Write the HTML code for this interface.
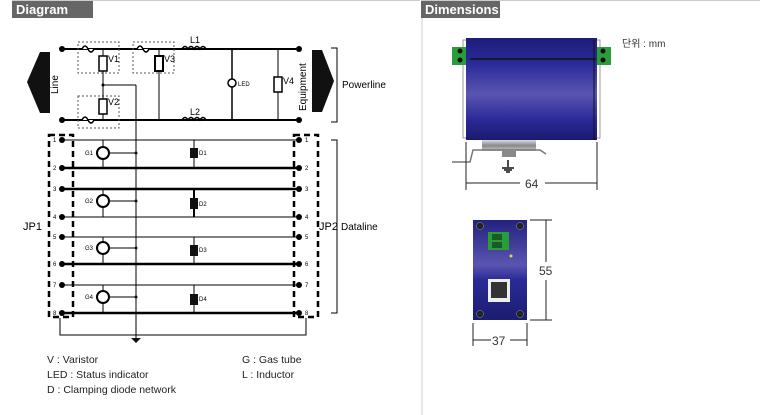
<!DOCTYPE html>
<html><head><meta charset="utf-8"><style>
html,body{margin:0;padding:0;background:#fff;width:760px;height:415px;overflow:hidden}
svg{display:block}
text{font-family:"Liberation Sans","Noto Sans CJK KR",sans-serif}
</style></head><body>
<svg width="760" height="415" viewBox="0 0 760 415" xmlns="http://www.w3.org/2000/svg">
<defs>
<linearGradient id="bl" x1="0" y1="0" x2="0" y2="1">
<stop offset="0" stop-color="#1c1c7a"/><stop offset="0.25" stop-color="#2a2a9a"/><stop offset="0.55" stop-color="#5a55b0"/><stop offset="0.8" stop-color="#2a2a98"/><stop offset="1" stop-color="#1a1a70"/></linearGradient>
<linearGradient id="bl2" x1="0" y1="0" x2="0" y2="1">
<stop offset="0" stop-color="#22227e"/><stop offset="0.45" stop-color="#5a55b0"/><stop offset="0.6" stop-color="#2a2a96"/><stop offset="1" stop-color="#1c1c70"/></linearGradient>
<linearGradient id="pl" x1="0" y1="0" x2="0" y2="1"><stop offset="0" stop-color="#ddd"/><stop offset="0.5" stop-color="#888"/><stop offset="1" stop-color="#ccc"/></linearGradient>
</defs>
<!-- headers -->
<line x1="12" y1="0.5" x2="420" y2="0.5" stroke="#ccc"/>
<line x1="421" y1="0.5" x2="760" y2="0.5" stroke="#ccc"/>
<rect x="12" y="1" width="81" height="17" fill="#666"/>
<text x="16" y="14" font-size="13" font-weight="bold" fill="#fff">Diagram</text>
<rect x="421" y="1" width="79" height="17" fill="#666"/>
<text x="425" y="14" font-size="13" font-weight="bold" fill="#fff">Dimensions</text>
<line x1="422" y1="18" x2="422" y2="415" stroke="#ccc"/>

<g stroke="#000" fill="none">
<!-- power lines -->
<line x1="62" y1="49" x2="299" y2="49" stroke-width="2"/>
<line x1="62" y1="120" x2="299" y2="120" stroke-width="2"/>
<rect x="78" y="42" width="41" height="31" stroke="#555" stroke-dasharray="2,2"/>
<rect x="78" y="96" width="41" height="32" stroke="#555" stroke-dasharray="2,2"/>
<rect x="133" y="42" width="41" height="31" stroke="#555" stroke-dasharray="2,2"/>
<line x1="103" y1="49" x2="103" y2="120"/>
<line x1="159" y1="49" x2="159" y2="120"/>
<line x1="103" y1="85" x2="136" y2="85"/>
<line x1="136" y1="85" x2="136" y2="338"/>
<line x1="232" y1="49" x2="232" y2="120" stroke-width="1.5"/>
<line x1="278" y1="49" x2="278" y2="120"/>
</g>
<!-- fuses -->
<g stroke="#000" fill="#fff" stroke-width="1.5">
<path d="M82 49 q3-6 6 0 t6 0" /><path d="M137 49 q3-6 6 0 t6 0"/><path d="M82 120 q3-6 6 0 t6 0"/>
<path d="M182 49 q3-5 6 0 q3-5 6 0 q3-5 6 0 q3-5 6 0" fill="none"/>
<path d="M182 120 q3-5 6 0 q3-5 6 0 q3-5 6 0 q3-5 6 0" fill="none"/>
<rect x="99" y="56" width="8" height="15"/><rect x="155" y="56" width="8" height="15" stroke-width="2"/>
<rect x="99" y="99" width="8" height="15"/><rect x="274" y="77" width="8" height="15"/>
<circle cx="232" cy="83" r="4"/>
</g>
<g font-size="9" fill="#000">
<text x="108" y="62">V1</text><text x="164" y="62">V3</text><text x="108" y="105">V2</text><text x="283" y="84">V4</text>
<text x="190" y="43">L1</text><text x="190" y="115">L2</text><text x="238" y="86" font-size="6">LED</text>
</g>
<g fill="#000"><circle cx="62" cy="49" r="3"/><circle cx="62" cy="120" r="3"/><circle cx="299" cy="49" r="3"/><circle cx="299" cy="120" r="3"/><circle cx="103" cy="85" r="1.5"/></g>
<!-- arrows -->
<path d="M50 52 L40 52 L27 82 L40 113 L50 113 Z" fill="#111"/>
<text transform="translate(58,94) rotate(-90)" font-size="10">Line</text>
<path d="M312 50 L322 50 L334 81 L322 112 L312 112 Z" fill="#111"/>
<text transform="translate(306,111) rotate(-90)" font-size="10">Equipment</text>
<path d="M331 48 H337 V122 H331" fill="none" stroke="#000"/>
<text x="342" y="88" font-size="10">Powerline</text>

<!-- data lines -->
<g stroke="#000">
<line x1="62" y1="140" x2="299" y2="140"/>
<line x1="62" y1="168" x2="299" y2="168" stroke-width="2.5"/>
<line x1="62" y1="189" x2="299" y2="189" stroke-width="2.5"/>
<line x1="62" y1="217" x2="299" y2="217"/>
<line x1="62" y1="237" x2="299" y2="237"/>
<line x1="62" y1="264" x2="299" y2="264" stroke-width="2.5"/>
<line x1="62" y1="285" x2="299" y2="285"/>
<line x1="62" y1="313" x2="299" y2="313" stroke-width="2.5"/>
<g stroke-dasharray="6,4" stroke-width="2.5" fill="none">
<rect x="49" y="135" width="24" height="182"/><rect x="294" y="135" width="24" height="182"/></g>
<path d="M60 318 V335 H306 V318" fill="none"/>
<line x1="103" y1="140" x2="103" y2="168"/><line x1="103" y1="189" x2="103" y2="217"/>
<line x1="103" y1="237" x2="103" y2="264"/><line x1="103" y1="285" x2="103" y2="313"/>
<line x1="194" y1="140" x2="194" y2="168"/><line x1="194" y1="189" x2="194" y2="217" stroke-width="2"/>
<line x1="194" y1="237" x2="194" y2="264"/><line x1="194" y1="285" x2="194" y2="313"/>
<line x1="103" y1="153" x2="136" y2="153"/><line x1="103" y1="201" x2="136" y2="201"/>
<line x1="103" y1="248" x2="136" y2="248"/><line x1="103" y1="297" x2="136" y2="297"/>
</g>
<g fill="#fff" stroke="#000" stroke-width="2">
<circle cx="103" cy="153" r="6"/><circle cx="103" cy="201" r="6"/><circle cx="103" cy="248" r="6"/><circle cx="103" cy="297" r="6"/>
</g>
<g fill="#111"><rect x="190" y="148" width="8" height="10"/><rect x="190" y="198" width="8" height="11"/><rect x="190" y="245" width="8" height="11"/><rect x="190" y="294" width="8" height="11"/>
<circle cx="136" cy="153" r="1.5"/><circle cx="136" cy="201" r="1.5"/><circle cx="136" cy="248" r="1.5"/><circle cx="136" cy="297" r="1.5"/>
<path d="M131 338 H141 L136 343 Z"/>
</g>
<g fill="#000">
<circle cx="62" cy="140" r="3"/><circle cx="62" cy="168" r="3"/><circle cx="62" cy="189" r="3"/><circle cx="62" cy="217" r="3"/><circle cx="62" cy="237" r="3"/><circle cx="62" cy="264" r="3"/><circle cx="62" cy="285" r="3"/><circle cx="62" cy="313" r="3"/>
<circle cx="299" cy="140" r="3"/><circle cx="299" cy="168" r="3"/><circle cx="299" cy="189" r="3"/><circle cx="299" cy="217" r="3"/><circle cx="299" cy="237" r="3"/><circle cx="299" cy="264" r="3"/><circle cx="299" cy="285" r="3"/><circle cx="299" cy="313" r="3"/>
</g>
<g font-size="6" fill="#000">
<text x="53" y="142">1</text><text x="53" y="170">2</text><text x="53" y="191">3</text><text x="53" y="219">4</text><text x="53" y="239">5</text><text x="53" y="266">6</text><text x="53" y="287">7</text><text x="53" y="315">8</text>
<text x="305" y="142">1</text><text x="305" y="170">2</text><text x="305" y="191">3</text><text x="305" y="219">4</text><text x="305" y="239">5</text><text x="305" y="266">6</text><text x="305" y="287">7</text><text x="305" y="315">8</text>
<text x="85" y="155">G1</text><text x="85" y="203">G2</text><text x="85" y="250">G3</text><text x="85" y="299">G4</text>
<text x="199" y="155">D1</text><text x="199" y="206">D2</text><text x="199" y="252">D3</text><text x="199" y="301">D4</text>
</g>
<text x="23" y="230" font-size="11">JP1</text>
<text x="319" y="230" font-size="11">JP2</text>
<text x="341" y="230" font-size="10">Dataline</text>
<path d="M331 140 H337 V313 H331" fill="none" stroke="#000"/>
<g font-size="10.5" fill="#222">
<text x="47" y="363">V : Varistor</text><text x="47" y="378">LED : Status indicator</text><text x="47" y="393">D : Clamping diode network</text>
<text x="242" y="363">G : Gas tube</text><text x="242" y="378">L : Inductor</text>
</g>

<!-- Dimensions top view -->
<rect x="463" y="40" width="6" height="98" fill="none" stroke="#999"/>
<rect x="594" y="40" width="6" height="98" fill="none" stroke="#999"/>
<rect x="466" y="38" width="131" height="102" fill="url(#bl)"/>
<line x1="470" y1="59" x2="596" y2="59" stroke="#111" stroke-width="1.5"/>
<line x1="594" y1="40" x2="594" y2="140" stroke="#111"/>
<rect x="452" y="47" width="14" height="18" fill="#2a9d3a"/><rect x="597" y="47" width="14" height="18" fill="#2a9d3a"/>
<g fill="#111"><circle cx="460" cy="51" r="2.5"/><circle cx="460" cy="60" r="2.5"/><circle cx="603" cy="51" r="2.5"/><circle cx="603" cy="60" r="2.5"/></g>
<rect x="482" y="140" width="54" height="11" fill="url(#pl)"/>
<rect x="502" y="151" width="14" height="6" fill="#888"/>
<path d="M452 162 H470 L473 150 H540 L546 154" fill="none" stroke="#777" stroke-width="1.5"/>
<path d="M508 160 V167 M502 168 H514 M504 170 H512 M506 172 H510" stroke="#111" stroke-width="1.5"/>
<text x="622" y="47" font-size="10" fill="#333">단위 : mm</text>
<g stroke="#222"><line x1="466" y1="142" x2="466" y2="190"/><line x1="597" y1="142" x2="597" y2="190"/>
<line x1="466" y1="183" x2="520" y2="183"/><line x1="545" y1="183" x2="597" y2="183"/></g>
<text x="525" y="188" font-size="12" fill="#333">64</text>

<!-- front view -->
<rect x="473" y="220" width="54" height="100" fill="url(#bl2)"/>
<rect x="488" y="232" width="21" height="18" fill="#2a9d3a"/>
<rect x="492" y="234" width="10" height="6" fill="#1a5a25"/><rect x="492" y="242" width="10" height="6" fill="#1a5a25"/>
<circle cx="511" cy="256" r="1.5" fill="#dd4"/>
<rect x="488" y="279" width="22" height="23" fill="#eee"/><rect x="491" y="282" width="16" height="16" fill="#333"/>
<g fill="#222" stroke="#999" stroke-width="0.5"><circle cx="480" cy="226" r="3.5"/><circle cx="520" cy="226" r="3.5"/><circle cx="480" cy="314" r="3.5"/><circle cx="520" cy="314" r="3.5"/></g>
<g stroke="#222"><line x1="530" y1="220" x2="552" y2="220"/><line x1="530" y1="320" x2="552" y2="320"/>
<line x1="546" y1="220" x2="546" y2="262"/><line x1="546" y1="280" x2="546" y2="320"/>
<line x1="473" y1="323" x2="473" y2="346"/><line x1="527" y1="323" x2="527" y2="346"/>
<line x1="473" y1="340" x2="491" y2="340"/><line x1="510" y1="340" x2="527" y2="340"/></g>
<text x="539" y="275" font-size="12" fill="#333">55</text>
<text x="492" y="345" font-size="12" fill="#333">37</text>
</svg>
</body></html>
